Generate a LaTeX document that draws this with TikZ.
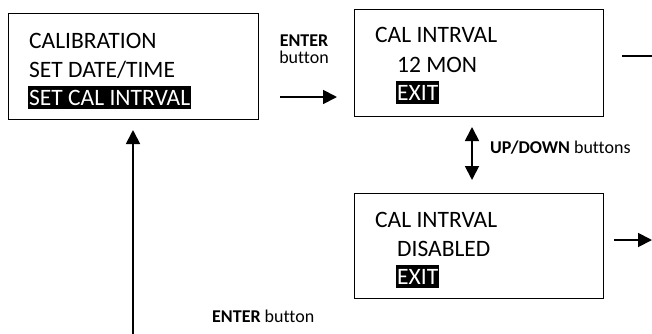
\documentclass[tikz,border=0pt]{standalone}
\usepackage{fontspec}
\setmainfont{Carlito}[Ligatures=NoCommon]
\usetikzlibrary{arrows.meta,positioning}

\begin{document}
\begin{tikzpicture}[x=1pt,y=-1pt,>={Triangle[length=14pt,width=14pt]},
    screen/.style={draw,line width=1.2pt,anchor=north west,inner sep=0pt},
    scrline/.style={anchor=base west,inner sep=0pt,font=\fontsize{23.5}{27}\selectfont},
    hilite/.style={scrline,fill=black,text=white,inner xsep=1pt,text height=19.5pt,text depth=4pt},
    lbl/.style={inner sep=0pt,font=\fontsize{18}{21}\selectfont},
    flow/.style={->,line width=1.8pt}]
    \useasboundingbox (0,0) rectangle (652,333);
    \clip (0,0) rectangle (652,333);
    % screens
    \node[screen,minimum width=250.5pt,minimum height=105.5pt] (scrMenu) at (7.5,13) {};
    \node[scrline] (menuCal) at ([shift={(21.5,35)}]scrMenu.north west) {CALIBRATION};
    \node[scrline] (menuDate) at ([shift={(21.5,64)}]scrMenu.north west) {SET DATE/TIME};
    \node[hilite] (menuIntv) at ([shift={(20.5,92)}]scrMenu.north west) {SET CAL INTRVAL};

    \node[screen,minimum width=249pt,minimum height=107pt] (scrMon) at (354,9) {};
    \node[scrline] (monTitle) at ([shift={(21,33.5)}]scrMon.north west) {CAL INTRVAL};
    \node[scrline] (monVal) at ([shift={(43,63)}]scrMon.north west) {12 MON};
    \node[hilite] (monExit) at ([shift={(42,91)}]scrMon.north west) {EXIT};

    \node[screen,minimum width=249pt,minimum height=105pt] (scrOff) at (354,193) {};
    \node[scrline] (offTitle) at ([shift={(21,34)}]scrOff.north west) {CAL INTRVAL};
    \node[scrline] (offVal) at ([shift={(43,63)}]scrOff.north west) {DISABLED};
    \node[hilite] (offExit) at ([shift={(42,91)}]scrOff.north west) {EXIT};

    % labels
    \node[lbl,anchor=base] (enterKey) at (304,46) {\textbf{ENTER}};
    \node[lbl,anchor=base] (enterBtn) at (304,63) {button};
    \node[lbl,anchor=base west] (udKey) at (490,153) {\textbf{UP/DOWN} buttons};
    \node[lbl,anchor=base west] (backKey) at (212,322) {\textbf{ENTER} button};

    % connectors
    \coordinate (enterFrom) at (280,97);
    \coordinate (enterTo) at (337,97);
    \coordinate (udTop) at (472,127);
    \coordinate (udBot) at (472,180);
    \coordinate (monOutA) at (622,56);
    \coordinate (monOutB) at (675,56);
    \coordinate (offOutA) at (614,240);
    \coordinate (offOutB) at (652,240);
    \coordinate (backFrom) at (133,345);
    \coordinate (backTo) at (133,130);
    \draw[flow] (enterFrom) -- (enterTo);
    \draw[flow,<->] (udTop) -- (udBot);
    \draw[flow] (monOutA) -- (monOutB);
    \draw[flow] (offOutA) -- (offOutB);
    \draw[flow] (backFrom) -- (backTo);
\end{tikzpicture}
\end{document}
